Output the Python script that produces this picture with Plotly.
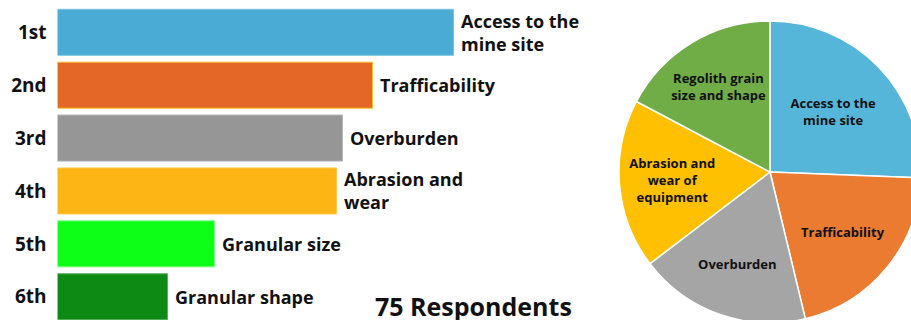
import plotly.graph_objects as go

# Ranked challenges (weighted score from 75 respondents)
ranks = ["1st", "2nd", "3rd", "4th", "5th", "6th"]
challenges = ["Access to the<br>mine site", "Trafficability", "Overburden",
              "Abrasion and<br>wear", "Granular size", "Granular shape"]
scores = [396, 315, 285, 279, 157, 110]
bar_colors = ["#4AABD4", "#E46727", "#969696", "#FDB516", "#0DFF17", "#0C8A14"]
bar_edges = ["#7CC3E2", "#F6C02A", "#B4B4B4", "#FDC94E", "#7BFF80", "#5AAE60"]

# Share of responses per challenge category
pie_labels = ["Access to the<br>mine site", "Trafficability", "Overburden",
              "Abrasion and<br>wear of<br>equipment", "Regolith grain<br>size and shape"]
pie_values = [92, 74, 66, 65, 62]
pie_colors = ["#55B6DA", "#EA7B30", "#A5A5A5", "#FEC000", "#70AD47"]

W, H = 930, 330
FONT = "Open Sans"


def fx(px):
    return px / W


def fy(px):
    return 1 - px / H


fig = go.Figure()

fig.add_trace(go.Bar(
    y=ranks, x=scores, orientation="h",
    marker=dict(color=bar_colors, line=dict(color=bar_edges, width=1)),
    xaxis="x", yaxis="y", showlegend=False, hoverinfo="y+x",
))

# Left-aligned challenge names just past the end of each bar
for rank, score, name in zip(ranks, scores, challenges):
    fig.add_annotation(
        x=score, y=rank, xref="x", yref="y", text=name,
        xanchor="left", yanchor="middle", align="left", xshift=5,
        showarrow=False,
        font=dict(family=FONT, size=18, color="#111111", weight="bold"),
    )

fig.add_trace(go.Pie(
    labels=pie_labels, values=pie_values, text=pie_labels,
    textinfo="text", textposition="inside", insidetextorientation="horizontal",
    sort=False, direction="clockwise", rotation=0,
    marker=dict(colors=pie_colors, line=dict(color="white", width=1.5)),
    textfont=dict(family=FONT, size=13, color="#111111", weight="bold"),
    domain=dict(x=[fx(619), fx(921)], y=[fy(323), fy(21)]),
    showlegend=False, hoverinfo="label+percent",
))

fig.add_annotation(
    text="75 Respondents", xref="paper", yref="paper",
    x=fx(373), y=fy(306), xanchor="left", yanchor="middle", showarrow=False,
    font=dict(family=FONT, size=25, color="#111111", weight="bold"),
)

fig.update_layout(
    width=W, height=H, autosize=False,
    margin=dict(l=0, r=0, t=0, b=0, pad=0),
    paper_bgcolor="white", plot_bgcolor="white",
    bargap=0.13,
    xaxis=dict(domain=[fx(57.5), fx(600)], range=[0, 542.5], visible=False,
               fixedrange=True),
    yaxis=dict(domain=[fy(323.2), fy(5.85)], autorange="reversed",
               showgrid=False, zeroline=False, showline=False, ticks="",
               ticklabelstandoff=10,
               tickfont=dict(family=FONT, size=19, color="#111111", weight="bold"),
               fixedrange=True),
)

fig.write_html(
    "out.html",
    config={"displayModeBar": False},
    post_script=(
        "document.body.style.margin='0';"
        "document.body.style.overflow='hidden';"
        "document.documentElement.style.overflow='hidden';"
    ),
)
